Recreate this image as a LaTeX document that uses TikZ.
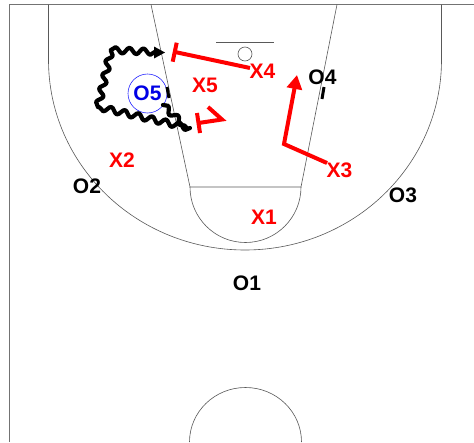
\documentclass[tikz,border=0pt]{standalone}
\usepackage{fontspec}
\setmainfont{Liberation Sans}
\usetikzlibrary{decorations.pathmorphing,arrows.meta}
\tikzset{
 court/.style={draw=black!65,line width=0.6pt},
 lbl/.style={font=\fontsize{21}{22}\selectfont\bfseries,inner sep=0pt},
 redl/.style={lbl,text=red},
 blkl/.style={lbl,text=black},
 blul/.style={lbl,text=blue!90!black},
 redpath/.style={draw=red,line width=4pt,line join=miter},
 wavy/.style={draw=black,line width=4.2pt,line cap=round,line join=round,decorate,decoration={snake,amplitude=3pt,segment length=14pt}},
}
\begin{document}
\begin{tikzpicture}[x=1pt,y=-1pt]
\useasboundingbox (0,0) rectangle (474,442);
\fill[white] (0,0) rectangle (474,442);
% court
\draw[draw=black!55,line width=1pt] (474,4.5) -- (9.5,4.5) -- (9.5,442);
\draw[court] (48.5,4.5) -- (48.5,60) arc[start angle=180,end angle=0,x radius=196.5,y radius=190] -- (441.5,4.5);
\draw[court] (151,4.5) -- (190,187) -- (301,187) -- (337,4.5);
\draw[court] (190,187) arc[start angle=180,end angle=0,x radius=55.5,y radius=55.5];
\draw[court] (189.5,442) arc[start angle=180,end angle=0,x radius=56,y radius=-54.5];
\draw[court] (216,42) -- (274,42);
\node[circle,court,minimum size=14pt,inner sep=0pt] (rim) at (245,54) {};
% players
\node[circle,draw=blue!85,line width=0.6pt,minimum size=39pt,inner sep=0pt] (o5c) at (147.5,93.5) {};
\node[blul] (o5) at (147.5,93) {O5};
\node[redl] (x5) at (205,85) {X5};
\node[redl] (x4) at (262.5,71) {X4};
\node[blkl] (o4) at (322.5,77) {O4};
\node[redl] (x2) at (122,160) {X2};
\node[blkl] (o2) at (87,186) {O2};
\node[redl] (x3) at (339.5,170) {X3};
\node[redl] (x1) at (264,217) {X1};
\node[blkl] (o3) at (403,195) {O3};
\node[blkl] (o1) at (247,283) {O1};
% coordinates
\coordinate (a1) at (250,68);
\coordinate (a2) at (175,52);
\coordinate (b1) at (176.7,42.7);
\coordinate (b2) at (172.7,61.7);
\coordinate (c1) at (208,107);
\coordinate (c2) at (222,119.5);
\coordinate (c3) at (198.5,123);
\coordinate (c4) at (197,113);
\coordinate (c5) at (200,133);
\coordinate (d1) at (327,163);
\coordinate (d2) at (284,144);
\coordinate (d3) at (297,75);
\coordinate (e1) at (324,87);
\coordinate (e2) at (322,99);
\coordinate (f1) at (167,87);
\coordinate (f2) at (169,98);
\coordinate (g1) at (163,105);
\coordinate (g2) at (186,127);
\coordinate (h1) at (190,128);
\coordinate (h2) at (98,107);
\coordinate (h3) at (111,50);
\coordinate (h4) at (155,52);
\coordinate (h5) at (165,52.5);
% red moves
\draw[redpath] (a1) -- (a2);
\draw[redpath] (b1) -- (b2);
\draw[redpath] (c1) -- (c2) -- (c3);
\draw[redpath] (c4) -- (c5);
\draw[redpath,-{Triangle[length=14pt,width=15pt]}] (d1) -- (d2) -- (d3);
% black moves
\draw[draw=black,line width=3pt] (e1) -- (e2);
\draw[draw=black,line width=3pt] (f1) -- (f2);
\draw[wavy] (g1) -- (g2);
\draw[wavy] (h1) -- (h2);
\draw[wavy] (h2) -- (h3);
\draw[wavy] (h3) -- (h4);
\fill[black] (h5) -- (154,46.5) -- (154,58.5) -- cycle;
\end{tikzpicture}
\end{document}
